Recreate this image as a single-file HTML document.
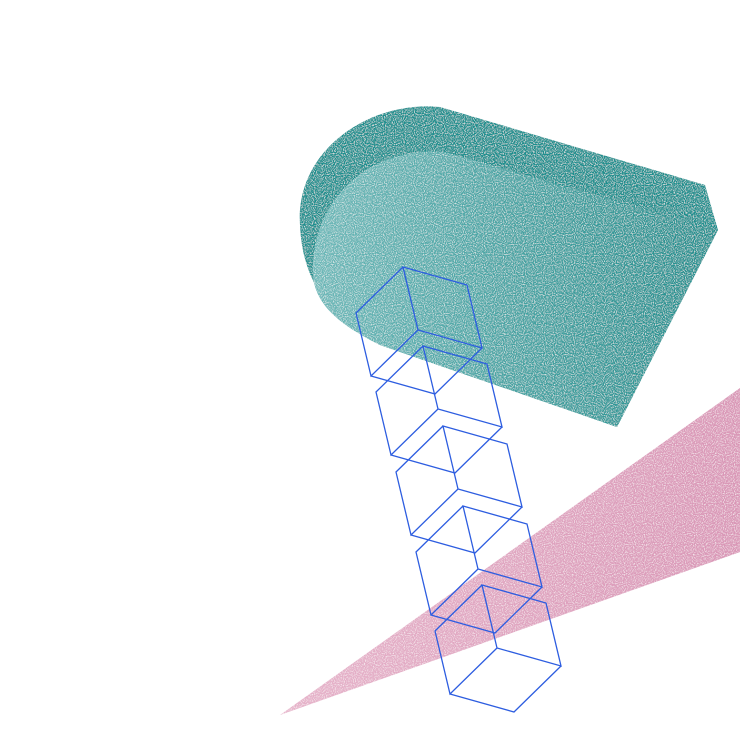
<!DOCTYPE html>
<html><head><meta charset="utf-8"><style>html,body{margin:0;padding:0;background:#fff}svg{display:block}</style></head>
<body>
<svg width="740" height="740" viewBox="0 0 740 740" xmlns="http://www.w3.org/2000/svg">
<defs>
<filter id="n" x="0" y="0" width="100%" height="100%">
<feTurbulence type="fractalNoise" baseFrequency="0.9" numOctaves="1" seed="3" result="t"/>
<feColorMatrix in="t" type="matrix" values="0 0 0 0 1 0 0 0 0 1 0 0 0 0 1 0 0 0 -2.2 1.2" result="w"/>
<feComposite in="w" in2="SourceGraphic" operator="in" result="wm"/>
<feMerge><feMergeNode in="SourceGraphic"/><feMergeNode in="wm"/></feMerge>
</filter>
<linearGradient id="fg" x1="0" y1="0" x2="1" y2="0">
<stop offset="0" stop-color="#6cb8b8"/><stop offset="1" stop-color="#1f8e8d"/>
</linearGradient>
<linearGradient id="pg" x1="0" y1="0" x2="1" y2="0">
<stop offset="0" stop-color="#e6b3ca"/><stop offset="1" stop-color="#d996b6"/>
</linearGradient>
</defs>
<g filter="url(#n)">
<path d="M300,225 C295,150 370,100 440,107 L705,185 L718,230 L617,427 L380,345 C330,320 302,280 300,225 Z" fill="#1c8f8e"/>
<path d="M313,275 C310,200 370,145 445,152 L718,230 L617,427 L380,345 C340,325 315,305 313,275 Z" fill="url(#fg)"/>
<path d="M280,715 L740,388 L740,552 Z" fill="url(#pg)"/>
</g>
<g fill="none" stroke="#2d5de0" stroke-width="1.3">
<path id="c" d="M403,267 L467,285 L482,348 L418,330 Z M403,267 L356,313 L371,376 L418,330 M371,376 L435,394 L482,348"/>
<use href="#c" transform="translate(20,79)"/>
<use href="#c" transform="translate(40,159)"/>
<use href="#c" transform="translate(60,239)"/>
<use href="#c" transform="translate(79,318)"/>
</g>
</svg>
</body></html>
